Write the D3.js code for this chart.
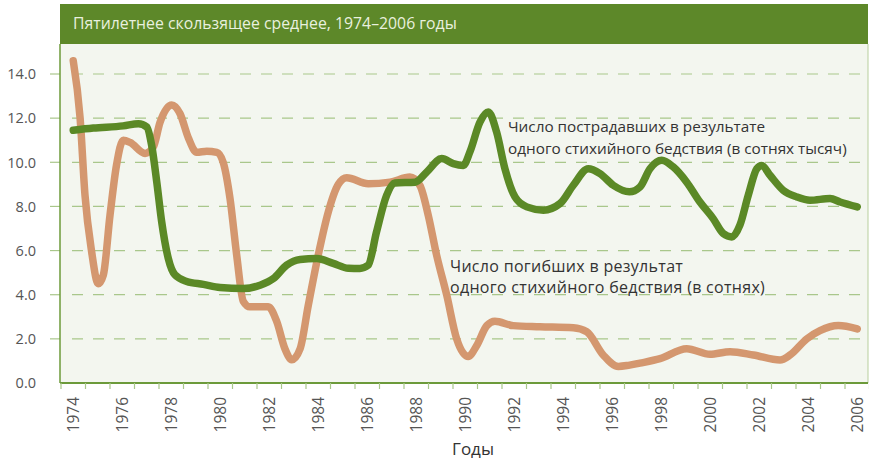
<!DOCTYPE html>
<html lang="ru">
<head>
<meta charset="UTF-8" />
<title>Пятилетнее скользящее среднее</title>
<script src="https://d3js.org/d3.v7.min.js"></script>
<style>
  body { margin: 0; background: #fff; }
  text { font-family: "Open Sans", sans-serif; }
  .tick-label { font-size: 14.5px; fill: #555; }
  .year-label { font-size: 15.5px; fill: #555; }
  .note { fill: #333; }
</style>
</head>
<body>
<svg width="869" height="459"></svg>
<script>
// пострадавшие (сотни тысяч) — зелёная линия
const affectedYears = [1974.0, 1974.82, 1976.04, 1976.66, 1977.0, 1977.2, 1977.41, 1977.61, 1977.88, 1978.15,
  1978.63, 1979.31, 1979.99, 1980.94, 1981.62, 1982.17, 1982.71, 1983.26, 1983.94, 1984.61,
  1985.23, 1985.7, 1986.04, 1986.38, 1986.79, 1987.13, 1987.95, 1988.43, 1989.04, 1989.51,
  1989.92, 1990.19, 1990.6, 1990.94, 1991.28, 1991.62, 1992.03, 1992.51, 1993.19, 1993.87,
  1994.41, 1995.02, 1995.5, 1996.04, 1996.7, 1997.13, 1997.54, 1998.02, 1998.49, 1999.04,
  1999.58, 2000.12, 2000.53, 2000.88, 2001.21, 2001.55, 2001.9, 2002.1, 2002.44, 2002.98,
  2003.53, 2004.07, 2004.89, 2005.3, 2006.0];
const affectedValues = [11.45, 11.55, 11.65, 11.75, 11.6, 10.77, 9.1, 7.3, 5.64, 4.9,
  4.6, 4.47, 4.33, 4.28, 4.43, 4.73, 5.34, 5.6, 5.64, 5.42,
  5.2, 5.19, 5.34, 6.85, 8.5, 9.06, 9.1, 9.56, 10.17, 9.94,
  9.86, 10.47, 11.82, 12.28, 11.37, 9.71, 8.43, 7.98, 7.83, 8.13,
  8.96, 9.71, 9.49, 8.96, 8.66, 8.88, 9.71, 10.09, 9.79, 9.1,
  8.2, 7.45, 6.77, 6.62, 7.15, 8.5, 9.71, 9.86, 9.41, 8.73,
  8.43, 8.28, 8.36, 8.2, 7.98];

// погибшие (сотни) — оранжевая линия
const deathYears = [1974.0, 1974.28, 1974.48, 1974.75, 1975.02, 1975.23, 1975.5, 1975.77, 1976.04, 1976.32,
  1976.93, 1977.27, 1977.54, 1978.02, 1978.36, 1978.7, 1979.04, 1979.45, 1979.86, 1980.12,
  1980.4, 1980.67, 1980.94, 1981.21, 1981.96, 1982.3, 1982.64, 1982.92, 1983.26, 1983.59,
  1984.0, 1984.41, 1984.82, 1985.16, 1986.04, 1986.93, 1987.74, 1988.15, 1988.49, 1988.83,
  1989.24, 1989.65, 1990.12, 1990.47, 1990.88, 1991.21, 1991.96, 1993.05, 1994.41, 1994.96,
  1995.63, 1996.25, 1996.66, 1997.13, 1997.95, 1999.04, 1999.99, 2000.81, 2001.76, 2002.85,
  2003.26, 2003.94, 2004.48, 2005.23, 2006.0];
const deathValues = [14.6, 12.0, 8.5, 5.95, 4.5, 4.9, 7.6, 9.9, 11.0, 10.9,
  10.4, 10.7, 11.8, 12.6, 12.2, 11.1, 10.45, 10.5, 10.45, 10.0,
  8.35, 5.8, 3.7, 3.45, 3.45, 2.8, 1.55, 1.05, 1.55, 3.5,
  5.8, 7.75, 9.0, 9.3, 9.03, 9.1, 9.33, 8.95, 7.6, 5.8,
  4.0, 2.0, 1.2, 1.7, 2.6, 2.8, 2.6, 2.55, 2.5, 2.32,
  1.27, 0.75, 0.8, 0.9, 1.1, 1.55, 1.3, 1.42, 1.27, 1.04,
  1.27, 2.0, 2.37, 2.6, 2.45];

const yTicks = [0, 2, 4, 6, 8, 10, 12, 14];
const firstYear = 1974, lastYear = 2006;

const svg = d3.select("svg");
const plotLeft = 61, plotRight = 868, plotTop = 44, plotBottom = 383;

const x = d3.scaleLinear().domain([firstYear - 0.5, lastYear + 0.5]).range([plotLeft, plotLeft + 24.5 * 33]);
const y = d3.scaleLinear().domain([0, 14]).range([plotBottom, 74]);

// шапка
svg.append("rect").attr("x", 60).attr("y", 4).attr("width", plotRight - 60).attr("height", 40).attr("fill", "#5d8829");
svg.append("text").attr("x", 73).attr("y", 29).attr("fill", "#e9f0df").style("font-size", "15.8px")
  .text("Пятилетнее скользящее среднее, 1974–2006 годы");

// фон
svg.append("rect").attr("x", 60).attr("y", plotTop).attr("width", plotRight - 60).attr("height", plotBottom - plotTop).attr("fill", "#f3f6ef");
svg.append("line").attr("x1", plotRight).attr("x2", plotRight).attr("y1", plotTop).attr("y2", plotBottom)
  .attr("stroke", "#b7cf9d").attr("stroke-width", 1);

// сетка и подписи по y
yTicks.forEach((v) => {
  if (v > 0) {
    svg.append("line").attr("x1", 72).attr("x2", plotRight).attr("y1", y(v)).attr("y2", y(v))
      .attr("stroke", "#a9c78b").attr("stroke-width", 1.2).attr("stroke-dasharray", "11,10");
    svg.append("line").attr("x1", 50).attr("x2", 60).attr("y1", y(v)).attr("y2", y(v))
      .attr("stroke", "#a9c78b").attr("stroke-width", 1.2);
  }
  svg.append("text").attr("class", "tick-label").attr("x", 36).attr("y", y(v)).attr("dy", "0.36em")
    .attr("text-anchor", "end").text(v.toFixed(1));
});

// оси
svg.append("line").attr("x1", 60).attr("x2", 60).attr("y1", plotTop).attr("y2", plotBottom)
  .attr("stroke", "#6c9a3a").attr("stroke-width", 1.5);
svg.append("line").attr("x1", 60).attr("x2", plotRight).attr("y1", plotBottom).attr("y2", plotBottom)
  .attr("stroke", "#6c9a3a").attr("stroke-width", 2);

const years = d3.range(firstYear, lastYear + 1);
years.concat([lastYear + 1]).forEach((yr) => {
  svg.append("line").attr("x1", x(yr - 0.5)).attr("x2", x(yr - 0.5)).attr("y1", plotBottom).attr("y2", plotBottom + 6)
    .attr("stroke", "#a9c78b").attr("stroke-width", 1.2);
});
years.filter((yr) => yr % 2 === 0).forEach((yr) => {
  svg.append("text").attr("class", "year-label")
    .attr("transform", `translate(${x(yr)},397) rotate(-90)`)
    .attr("dy", "0.36em").attr("text-anchor", "end").text(yr);
});

svg.append("text").attr("x", 473).attr("y", 455).attr("text-anchor", "middle")
  .attr("fill", "#333").style("font-size", "17px").text("Годы");

// линии
const line = d3.line().x((d) => x(d[0])).y((d) => y(d[1])).curve(d3.curveMonotoneX);

svg.append("path").datum(d3.zip(deathYears, deathValues)).attr("d", line)
  .attr("fill", "none").attr("stroke", "#d4976f").attr("stroke-width", 7.5)
  .attr("stroke-linecap", "round").attr("stroke-linejoin", "round");

svg.append("path").datum(d3.zip(affectedYears, affectedValues)).attr("d", line)
  .attr("fill", "none").attr("stroke", "#5b8926").attr("stroke-width", 7.5)
  .attr("stroke-linecap", "round").attr("stroke-linejoin", "round");

// подписи
const note1 = svg.append("text").attr("class", "note").attr("x", 508).attr("y", 132).style("font-size", "15.3px");
note1.append("tspan").attr("x", 508).text("Число пострадавших в результате");
note1.append("tspan").attr("x", 508).attr("dy", 21.5).text("одного стихийного бедствия (в сотнях тысяч)");

const note2 = svg.append("text").attr("class", "note").attr("x", 450).attr("y", 272).style("font-size", "16px")
  .style("letter-spacing", "0.3px");
note2.append("tspan").attr("x", 450).text("Число погибших в результат");
note2.append("tspan").attr("x", 450).attr("dy", 20.6).text("одного стихийного бедствия (в сотнях)");
</script>
</body>
</html>
